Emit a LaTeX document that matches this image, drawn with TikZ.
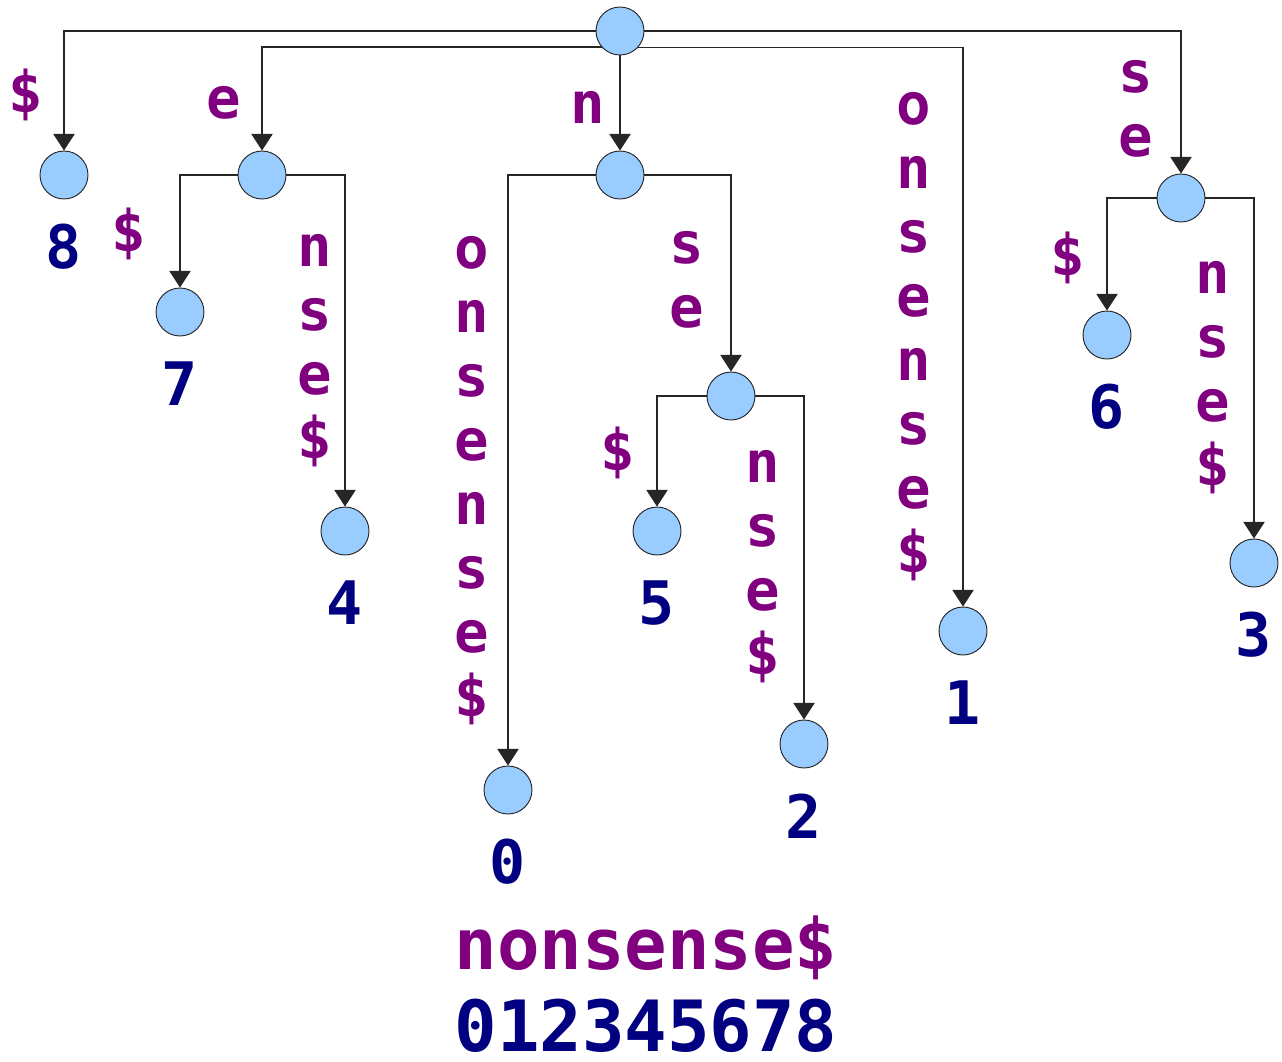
\documentclass[tikz,border=0pt]{standalone}
\usepackage{fontspec}
\setmonofont{DejaVu Sans Mono}
\usepackage{tikz}
\usetikzlibrary{arrows.meta}
\usetikzlibrary{positioning}
\definecolor{edgepurple}{HTML}{800080}
\definecolor{leafnavy}{HTML}{000080}
\definecolor{nodeblue}{HTML}{99CCFF}

\begin{document}
\begin{tikzpicture}[x=0.75pt,y=-0.75pt,>={Triangle[width=16pt,length=12.5pt]},
    tree node/.style={circle,draw=black!85,line width=0.7pt,fill=nodeblue,minimum size=36pt,inner sep=0pt},
    edge label/.style={text=edgepurple,align=center,inner sep=0pt,font=\fontsize{43}{48}\selectfont\ttfamily\bfseries},
    leaf label/.style={text=leafnavy,inner sep=0pt,font=\fontsize{45}{50}\selectfont\ttfamily\bfseries},
    tree edge/.style={draw=black!85,line width=0.9pt}]
      \useasboundingbox (0,0) rectangle (1282,1061);

      % inner nodes
      \node [tree node] (root) at (620,31) {};
      \node [tree node] (e) at (262,175) {};
      \node [tree node] (n) at (620,175) {};
      \node [tree node] (se) at (1181,198) {};
      \node [tree node] (nse) at (731,396) {};

      % leaves with their suffix numbers
      \foreach \i/\x/\y in {8/64/175, 7/180/312, 4/345/531, 0/508/790, 5/657/531,
                            2/804/744, 1/963/631, 6/1107/335, 3/1254/563} {
        \node [tree node] (L\i) at (\x,\y) {};
        \node [leaf label] (num\i) at (\x,{\y+72}) {\i};
      }

      \draw[tree edge,->] (root) -| (L8);
      \draw[tree edge,->] (root.221.8) -| (e);
      \draw[tree edge,->] (root) -- (n);
      \draw[tree edge,->] (root.318.2) -| (L1);
      \draw[tree edge,->] (root) -| (se);

      \draw[tree edge,->] (e) -| (L7);
      \draw[tree edge,->] (e) -| (L4);
      \draw[tree edge,->] (n) -| (L0);
      \draw[tree edge,->] (n) -| (nse);
      \draw[tree edge,->] (nse) -| (L5);
      \draw[tree edge,->] (nse) -| (L2);
      \draw[tree edge,->] (se) -| (L6);
      \draw[tree edge,->] (se) -| (L3);

      % edge labels
      \node [edge label] (lab8) at (26,95) {\$};
      \node [edge label] (labe) at (224,103) {e};
      \node [edge label] (labn) at (588,107) {n};
      \node [edge label] (lab1) at (914,337) {o\\n\\s\\e\\n\\s\\e\\\$};
      \node [edge label] (labse) at (1136,109) {s\\e};
      \node [edge label] (lab7) at (129,234) {\$};
      \node [edge label] (lab4) at (315,351) {n\\s\\e\\\$};
      \node [edge label] (lab0) at (472,481) {o\\n\\s\\e\\n\\s\\e\\\$};
      \node [edge label] (labnse) at (687,280) {s\\e};
      \node [edge label] (lab5) at (618,453) {\$};
      \node [edge label] (lab2) at (763,567) {n\\s\\e\\\$};
      \node [edge label] (lab6) at (1068,258) {\$};
      \node [edge label] (lab3) at (1213,378) {n\\s\\e\\\$};

      % the text and its positions
      \node [edge label,font=\fontsize{53}{60}\selectfont\ttfamily\bfseries] (word) at (646,948) {nonsense\$};
      \node [leaf label,font=\fontsize{53}{60}\selectfont\ttfamily\bfseries] (index) at (646,1026) {012345678};
\end{tikzpicture}
\end{document}
